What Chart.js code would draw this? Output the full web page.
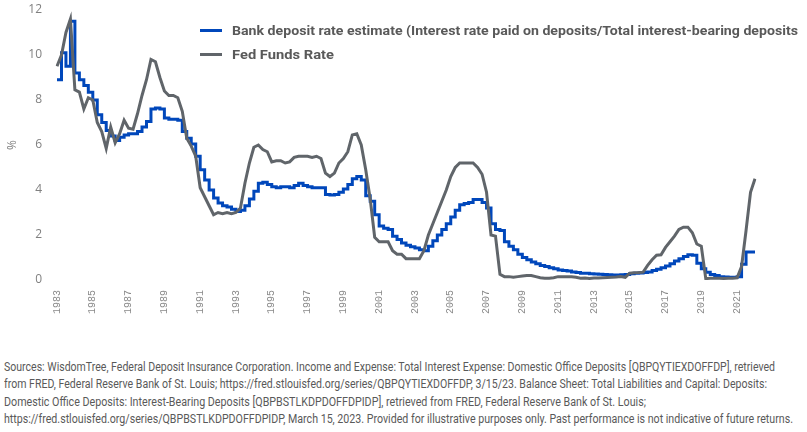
<!DOCTYPE html>
<html>
<head>
<meta charset="utf-8">
<script src="https://cdn.jsdelivr.net/npm/chart.js@4/dist/chart.umd.min.js"></script>
<style>
  body { margin: 0; background: #fff; width: 807px; height: 432px; overflow: hidden; position: relative; }
  #wrap { position: absolute; left: 0; top: 0; width: 807px; height: 332px; }
  .legend-row { position: absolute; left: 200px; height: 20px; display: flex; align-items: center; white-space: nowrap; }
  .legend-swatch { width: 22px; height: 3px; margin-right: 10px; flex: none; }
  .legend-text { display: inline-block; font-family: Roboto, sans-serif; font-weight: bold; font-size: 13px; color: #595959; transform-origin: left center; }
  #sources { position: absolute; left: 4px; top: 358px; font-family: Roboto, sans-serif; font-size: 12.5px; line-height: 17.4px; color: #595959; }
  #sources div { white-space: nowrap; transform-origin: left center; width: max-content; }
</style>
</head>
<body>
<div id="wrap"><canvas id="depositChart" width="807" height="332"></canvas></div>

<div class="legend-row" style="top:20px">
  <div class="legend-swatch" style="background:#0047bb"></div>
  <span class="legend-text" id="leg1">Bank deposit rate estimate (Interest rate paid on deposits/Total interest-bearing deposits</span>
</div>
<div class="legend-row" style="top:44px">
  <div class="legend-swatch" style="background:#60656a"></div>
  <span class="legend-text" id="leg2">Fed Funds Rate</span>
</div>

<div id="sources">
  <div id="src1">Sources: WisdomTree, Federal Deposit Insurance Corporation. Income and Expense: Total Interest Expense: Domestic Office Deposits [QBPQYTIEXDOFFDP], retrieved</div>
  <div id="src2">from FRED, Federal Reserve Bank of St. Louis; https://fred.stlouisfed.org/series/QBPQYTIEXDOFFDP, 3/15/23. Balance Sheet: Total Liabilities and Capital: Deposits:</div>
  <div id="src3">Domestic Office Deposits: Interest-Bearing Deposits [QBPBSTLKDPDOFFDPIDP], retrieved from FRED, Federal Reserve Bank of St. Louis;</div>
  <div id="src4">https://fred.stlouisfed.org/series/QBPBSTLKDPDOFFDPIDP, March 15, 2023. Provided for illustrative purposes only. Past performance is not indicative of future returns.</div>
</div>

<script>
// quarterly data, starting 1983 Q4
const startYear = 1983;
const startQuarter = 4;

const tickYears = ['1983', '1985', '1987', '1989', '1991', '1993', '1995', '1997', '1999', '2001',
                   '2003', '2005', '2007', '2009', '2011', '2013', '2015', '2017', '2019', '2021'];

// Bank deposit rate estimate (%)
const depositRate = [
    8.9, 10.1, 9.5, 11.5, 9.2, 8.9, 8.65, 8.35,
    8.0, 7.35, 7.0, 6.65, 6.4, 6.2, 6.35, 6.45,
    6.5, 6.5, 6.6, 6.8, 7.05, 7.6, 7.65, 7.6,
    7.2, 7.15, 7.15, 7.1, 6.6, 6.3, 6.05, 5.5,
    4.9, 4.45, 4.0, 3.65, 3.42, 3.3, 3.25, 3.15,
    3.05, 3.1, 3.3, 3.6, 3.95, 4.3, 4.35, 4.25,
    4.15, 4.1, 4.15, 4.15, 4.1, 4.2, 4.3, 4.2,
    4.15, 4.1, 4.1, 4.1, 3.8, 3.78, 3.8, 3.9,
    4.05, 4.25, 4.5, 4.6, 4.45, 3.75, 3.5, 2.9,
    2.4, 2.3, 2.25, 1.95, 1.8, 1.65, 1.55, 1.48,
    1.42, 1.35, 1.3, 1.5, 1.75, 2.0, 2.25, 2.5,
    2.8, 3.1, 3.35, 3.4, 3.45, 3.58, 3.58, 3.45,
    3.2, 2.5, 2.25, 2.2, 1.7, 1.5, 1.35, 1.15,
    1.0, 0.9, 0.8, 0.72, 0.65, 0.6, 0.55, 0.5,
    0.45, 0.42, 0.4, 0.36, 0.33, 0.3, 0.3, 0.28,
    0.27, 0.26, 0.24, 0.23, 0.22, 0.22, 0.23, 0.25,
    0.28, 0.3, 0.31, 0.33, 0.36, 0.42, 0.48, 0.55,
    0.62, 0.72, 0.85, 0.95, 1.05, 1.12, 1.1, 0.75,
    0.5, 0.35, 0.25, 0.2, 0.15, 0.13, 0.12, 0.12,
    0.15, 0.7, 1.25, 1.25, 1.25
];

// Fed Funds Rate (%)
const fedFunds = [
    9.5, 10.0, 11.0, 11.6, 8.45, 8.35, 7.6, 8.1,
    8.0, 7.0, 6.6, 5.85, 6.8, 6.1, 6.5, 7.1,
    6.75, 6.7, 7.4, 8.2, 8.9, 9.8, 9.7, 9.0,
    8.4, 8.2, 8.2, 8.1, 7.5, 6.3, 5.95, 5.5,
    4.1, 3.7, 3.3, 2.9, 3.0, 2.95, 3.0, 2.95,
    3.0, 3.2, 4.3, 5.2, 5.9, 6.0, 5.8, 5.7,
    5.25, 5.3, 5.3, 5.2, 5.25, 5.45, 5.5, 5.5,
    5.5, 5.45, 5.5, 5.4, 4.75, 4.6, 4.75, 5.2,
    5.4, 5.7, 6.45, 6.5, 6.0, 4.9, 3.6, 1.9,
    1.7, 1.7, 1.7, 1.3, 1.15, 1.15, 0.95, 0.95,
    0.95, 0.95, 1.3, 2.0, 2.5, 3.0, 3.5, 4.0,
    4.6, 5.0, 5.2, 5.2, 5.2, 5.2, 5.0, 4.7,
    3.9, 2.0, 1.95, 0.25, 0.15, 0.15, 0.12, 0.15,
    0.18, 0.2, 0.2, 0.15, 0.1, 0.08, 0.08, 0.1,
    0.15, 0.15, 0.15, 0.14, 0.12, 0.08, 0.09, 0.07,
    0.09, 0.09, 0.1, 0.11, 0.12, 0.13, 0.15, 0.12,
    0.3, 0.32, 0.33, 0.35, 0.65, 0.9, 1.1, 1.12,
    1.45, 1.7, 1.95, 2.25, 2.35, 2.35, 2.1, 1.6,
    1.5, 0.06, 0.08, 0.08, 0.08, 0.07, 0.08, 0.08,
    0.1, 0.6, 2.2, 3.9, 4.5
];

// category labels, one per quarter
const quarters = [];
for (let i = 0; i < fedFunds.length; i++) {
    const q = startQuarter - 1 + i;
    quarters.push((startYear + Math.floor(q / 4)) + ' Q' + (q % 4 + 1));
}

function createDepositChart(chartId) {
    const ctx = document.getElementById(chartId).getContext('2d');
    new Chart(ctx, {
        type: 'line',
        data: {
            labels: quarters,
            datasets: [{
                label: 'Fed Funds Rate',
                data: fedFunds,
                borderColor: '#60656a',
                borderWidth: 3,
                pointRadius: 0,
                tension: 0
            }, {
                label: 'Bank deposit rate estimate',
                data: depositRate,
                borderColor: '#0047bb',
                borderWidth: 3,
                pointRadius: 0,
                stepped: 'before'
            }]
        },
        options: {
            responsive: false,
            animation: false,
            layout: { padding: { top: 10, right: 52, left: 0, bottom: 0 } },
            plugins: {
                legend: { display: false },
                tooltip: { enabled: false }
            },
            scales: {
                x: {
                    grid: { display: false, drawTicks: false },
                    border: { display: false },
                    ticks: {
                        autoSkip: false,
                        minRotation: 90,
                        maxRotation: 90,
                        padding: 10,
                        color: '#8a8a8a',
                        font: { family: 'Liberation Mono', size: 10 },
                        callback: function(value, index) {
                            return index % 8 === 0 ? tickYears[index / 8] : '';
                        }
                    },
                    afterFit: function(scale) { scale.height = 52; }
                },
                y: {
                    min: 0,
                    max: 12,
                    grid: { display: false, drawTicks: false },
                    border: { display: false },
                    ticks: {
                        stepSize: 2,
                        padding: 15,
                        color: '#808080',
                        font: { family: 'Open Sans', size: 12 }
                    },
                    title: {
                        display: true,
                        text: '%',
                        color: '#808080',
                        font: { family: 'Open Sans', size: 12 },
                        padding: { top: 5, bottom: 5 }
                    },
                    afterFit: function(scale) {
                        // fixed axis width, and no extra room above the top label
                        scale.width = 57;
                        scale.paddingTop = 0;
                        scale.paddingBottom = 0;
                    }
                }
            }
        }
    });
}

// squeeze text lines to the widths they take in the original
function fitWidth(id, target) {
    const el = document.getElementById(id);
    const w = el.getBoundingClientRect().width;
    el.style.transform = 'scaleX(' + (target / w) + ')';
}

createDepositChart('depositChart');
fitWidth('leg1', 566);
fitWidth('leg2', 102);
fitWidth('src1', 771);
fitWidth('src2', 763);
fitWidth('src3', 642);
fitWidth('src4', 789);
</script>
</body>
</html>
